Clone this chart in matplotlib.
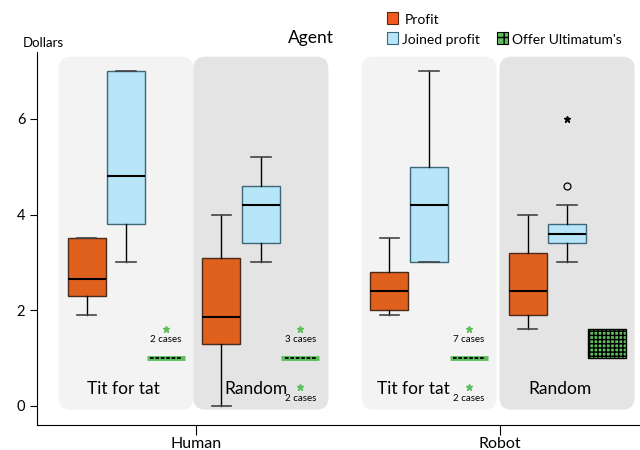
import numpy as np
import matplotlib
matplotlib.use('Agg')
from matplotlib import pyplot as plt
from matplotlib.patches import FancyBboxPatch, Rectangle

plt.rcParams['font.family'] = ['Lato', 'DejaVu Sans']

agents = ['Human', 'Robot']
strategies = ['Tit for tat', 'Random', 'Tit for tat', 'Random']

# box stats per panel: (whislo, q1, med, q3, whishi)
profit = [(1.9, 2.3, 2.65, 3.5, 3.5),
          (0.0, 1.3, 1.85, 3.1, 4.0),
          (1.9, 2.0, 2.4, 2.8, 3.5),
          (1.6, 1.9, 2.4, 3.2, 4.0)]
joined = [(3.0, 3.8, 4.8, 7.0, 7.0),
          (3.0, 3.4, 4.2, 4.6, 5.2),
          (3.0, 3.0, 4.2, 5.0, 7.0),
          (3.0, 3.4, 3.6, 3.8, 4.2)]
joined_circle = [None, None, None, 4.6]
joined_star = [None, None, None, 6.0]
offer = [1.0, 1.0, 1.0, 1.0]
offer_box = [None, None, None, (1.0, 1.6)]
offer_high = [1.6, 1.6, 1.6, None]
offer_high_txt = ['2 cases', '3 cases', '7 cases', None]
offer_low = [None, 0.4, 0.4, None]
offer_low_txt = [None, '2 cases', '2 cases', None]

c_profit = '#e0601e'
c_joined = '#b6e6f8'
c_offer = '#5cbf5c'

group_x = [0.77, 1.213, 1.766, 2.22]
label_x = [0.762, 1.197, 1.714, 2.197]
step = 0.13
bw = 0.125

fig = plt.figure(figsize=(6.4, 4.5), dpi=100)
ax = fig.add_axes([0.058, 0.0556, 0.942, 0.829])
ax.set_xlim(0.477, 2.46)
ax.set_ylim(-0.40, 7.4)

# panels
panel_col = ['#f3f3f3', '#e4e4e4', '#f3f3f3', '#e4e4e4']
for g, c in zip(group_x, panel_col):
    p = FancyBboxPatch((g - 0.222, -0.08), 0.444, 7.38,
                       boxstyle='round,pad=0,rounding_size=0.04',
                       mutation_aspect=6.3, fc=c, ec='none', zorder=0)
    ax.add_patch(p)

def stats(s):
    return dict(whislo=s[0], q1=s[1], med=s[2], q3=s[3], whishi=s[4], fliers=[])

ax.bxp([stats(s) for s in profit], positions=[g - step for g in group_x],
       widths=bw, patch_artist=True, showfliers=False,
       boxprops=dict(fc=c_profit, ec='#4a2a1a', lw=1),
       medianprops=dict(color='black', lw=1.5),
       whiskerprops=dict(color='black', lw=1),
       capprops=dict(color='#444444', lw=1.2), capwidths=0.064)
ax.bxp([stats(s) for s in joined], positions=group_x,
       widths=bw, patch_artist=True, showfliers=False,
       boxprops=dict(fc=c_joined, ec='#3d6678', lw=1),
       medianprops=dict(color='black', lw=1.5),
       whiskerprops=dict(color='black', lw=1),
       capprops=dict(color='#444444', lw=1.2), capwidths=0.064)

for i, g in enumerate(group_x):
    xo = g + step
    if joined_circle[i] is not None:
        ax.plot(g, joined_circle[i], 'o', mfc='none', mec='black', ms=5, mew=0.9)
    if joined_star[i] is not None:
        ax.plot(g, joined_star[i], '*', color='black', ms=5)
    if offer_box[i] is not None:
        lo, hi = offer_box[i]
        ax.add_patch(Rectangle((xo - bw / 2, lo), bw, hi - lo, fc=c_offer,
                               ec='black', hatch='++++', lw=1, zorder=3))
    else:
        ax.hlines(offer[i], xo - bw / 2, xo + bw / 2, color=c_offer, lw=3.5, zorder=3)
        ax.hlines(offer[i], xo - bw / 2 + 0.012, xo + bw / 2 - 0.012, color='black',
                  lw=1.3, linestyles=(0, (2, 1)), zorder=4)
    if offer_high[i] is not None:
        ax.plot(xo, offer_high[i], '*', color=c_offer, ms=5)
        ax.text(xo, offer_high[i] - 0.12, offer_high_txt[i], ha='center', va='top', fontsize=7)
    if offer_low[i] is not None:
        ax.plot(xo, offer_low[i], '*', color=c_offer, ms=5)
        ax.text(xo, offer_low[i] - 0.15, offer_low_txt[i], ha='center', va='top', fontsize=7)
    ax.text(label_x[i], 0.36, strategies[i], ha='center', va='center', fontsize=12.5)

ax.set_yticks([0, 2, 4, 6])
ax.set_xticks([1, 2])
ax.set_xticklabels(agents)
ax.tick_params(labelsize=10.5, length=5)
ax.tick_params(axis='x', length=7, pad=1.5, labelsize=11.5)
for s in ['top', 'right']:
    ax.spines[s].set_visible(False)

fig.text(0.035, 0.895, 'Dollars', fontsize=9.5)
fig.text(0.485, 0.905, 'Agent', fontsize=12.5, ha='center')

# legend
fig.add_artist(Rectangle((387 / 640, 1 - 24 / 450), 11 / 640, 12 / 450, transform=fig.transFigure,
                         fc='#f25a1e', ec='#5a2a10', lw=0.8))
fig.text(405 / 640, 1 - 24 / 450, 'Profit', fontsize=10)
fig.add_artist(Rectangle((387 / 640, 1 - 44 / 450), 11 / 640, 12 / 450, transform=fig.transFigure,
                         fc=c_joined, ec='#3d6678', lw=0.8))
fig.text(402 / 640, 1 - 44 / 450, 'Joined profit', fontsize=10)
fig.add_artist(Rectangle((497 / 640, 1 - 44 / 450), 11 / 640, 12 / 450, transform=fig.transFigure,
                         fc=c_offer, ec='black', hatch='++', lw=0.8))
fig.text(512 / 640, 1 - 44 / 450, "Offer Ultimatum's", fontsize=10)

fig.savefig('out.png', dpi=100)
